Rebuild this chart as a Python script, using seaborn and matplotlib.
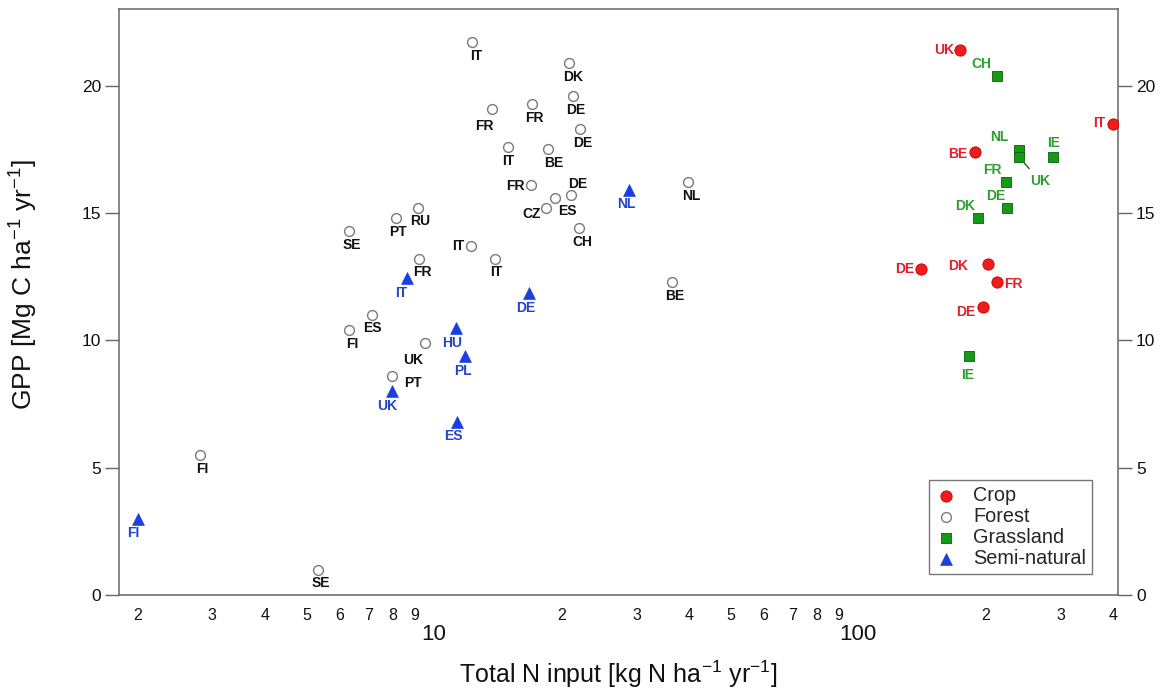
import matplotlib
matplotlib.use("Agg")
import matplotlib.pyplot as plt
from matplotlib.ticker import LogLocator, FuncFormatter, MultipleLocator
import seaborn as sns
import pandas as pd
import numpy as np

# ---- data: total N input (kg N/ha/yr) vs GPP (Mg C/ha/yr) by land use ----
crop_sites = ["UK", "IT", "BE", "DE", "DK", "FR", "DE"]
crop_n = [174, 400, 188.5, 140.7, 202, 212, 197.5]
crop_gpp = [21.4, 18.5, 17.4, 12.8, 13.0, 12.3, 11.3]

forest_sites = ["IT", "DK", "DE", "FR", "FR", "DE", "IT", "BE", "FR", "DE", "ES", "CZ",
                "CH", "NL", "BE", "IT", "IT", "RU", "PT", "SE", "FR", "ES", "FI", "UK",
                "PT", "FI", "SE"]
forest_n = [12.3, 20.8, 21.3, 13.7, 17.0, 22.1, 14.9, 18.6, 16.9, 21.0, 19.3, 18.4,
            22.0, 39.8, 36.4, 12.2, 13.9, 9.15, 8.14, 6.31, 9.23, 7.13, 6.31, 9.52,
            7.95, 2.81, 5.32]
forest_gpp = [21.7, 20.9, 19.6, 19.1, 19.3, 18.3, 17.6, 17.5, 16.1, 15.7, 15.6, 15.2,
              14.4, 16.2, 12.3, 13.7, 13.2, 15.2, 14.8, 14.3, 13.2, 11.0, 10.4, 9.9,
              8.6, 5.5, 1.0]

grass_sites = ["CH", "NL", "UK", "IE", "FR", "DE", "DK", "IE"]
grass_n = [212, 239.5, 239.5, 288, 223, 224, 192, 183]
grass_gpp = [20.4, 17.47, 17.2, 17.2, 16.2, 15.2, 14.8, 9.4]

semi_sites = ["FI", "IT", "UK", "HU", "PL", "ES", "DE", "NL"]
semi_n = [2.0, 8.65, 7.95, 11.25, 11.83, 11.35, 16.77, 28.8]
semi_gpp = [3.0, 12.45, 8.0, 10.5, 9.4, 6.8, 11.85, 15.9]

# ---- label placement (pixel offsets from each marker: right, down) ----
crop_offsets = [(-16, 0), (-14, -1), (-17, 2), (-16, 0), (-30, 2), (17, 2), (-18, 5)]
forest_offsets = [(4, 14), (4, 14), (2, 14), (-8, 17), (3, 14), (3, 14), (1, 14), (5, 14),
                  (-15, 1), (7, -11), (12, 13), (-15, 6), (3, 14), (3, 14), (3, 14),
                  (-13, 0), (1, 13), (2, 13), (2, 14), (3, 14), (3, 13), (1, 13), (3, 14),
                  (-12, 17), (21, 7), (2, 14), (3, 13)]
grass_offsets = [(-15, -12), (-20, -13), (21, 24), (1, -14), (-13, -12), (-11, -12),
                 (-13, -12), (-2, 19)]
semi_offsets = [(-4, 14), (-6, 15), (-5, 15), (-4, 15), (-2, 15), (-4, 14), (-4, 15), (-3, 14)]

groups = [
    dict(name="Crop", sites=crop_sites, n=crop_n, gpp=crop_gpp, off=crop_offsets,
         marker="o", face="#ee1c1c", edge="#c80000", lw=0.6, s=66, text="#e0202a"),
    dict(name="Forest", sites=forest_sites, n=forest_n, gpp=forest_gpp, off=forest_offsets,
         marker="o", face="white", edge="#7a7a7a", lw=1.0, s=50, text="#111111"),
    dict(name="Grassland", sites=grass_sites, n=grass_n, gpp=grass_gpp, off=grass_offsets,
         marker="s", face="#149a14", edge="#0b5e0b", lw=0.6, s=62, text="#2e9e2e"),
    dict(name="Semi-natural", sites=semi_sites, n=semi_n, gpp=semi_gpp, off=semi_offsets,
         marker="^", face="#1a3fe0", edge="#1a3fe0", lw=0.5, s=72, text="#2244cc"),
]

sns.set_theme(style="white")
plt.rcParams["font.family"] = ["Liberation Sans", "DejaVu Sans"]
plt.rcParams["mathtext.default"] = "regular"

fig = plt.figure(figsize=(11.68, 6.97), dpi=100)
ax = fig.add_axes([119 / 1168, 1 - 595 / 697, (1118 - 119) / 1168, (595 - 9.3) / 697])

for g in groups:
    df = pd.DataFrame({"N": g["n"], "GPP": g["gpp"], "site": g["sites"]})
    sns.scatterplot(data=df, x="N", y="GPP", ax=ax, marker=g["marker"], s=g["s"],
                    color=g["face"], edgecolor=g["edge"], linewidth=g["lw"],
                    label=g["name"], zorder=3, legend=False)
    for site, xv, yv, (dx, dy) in zip(g["sites"], g["n"], g["gpp"], g["off"]):
        arrow = None
        if g["name"] == "Grassland" and site == "UK":
            arrow = dict(arrowstyle="-", color="#444444", lw=1.0, shrinkA=2, shrinkB=6)
        ax.annotate(site, (xv, yv), xytext=(dx, -dy), textcoords="offset pixels",
                    ha="center", va="center", fontsize=10, fontweight="bold",
                    color=g["text"], arrowprops=arrow, zorder=4)

ax.set_xscale("log")
ax.set_xlim(1.807, 410)
ax.set_ylim(0, 23)

# x axis: decades labelled large, intermediate values by their leading digit
ax.xaxis.set_major_locator(LogLocator(base=10))
ax.xaxis.set_minor_locator(LogLocator(base=10, subs=np.arange(2, 10)))
ax.xaxis.set_major_formatter(FuncFormatter(lambda v, p: f"{v:g}"))
ax.xaxis.set_minor_formatter(FuncFormatter(
    lambda v, p: str(int(round(v / 10 ** np.floor(np.log10(v) + 1e-9))))))
ax.yaxis.set_major_locator(MultipleLocator(5))

spine_c = "#666666"
for sp in ax.spines.values():
    sp.set_visible(True)
    sp.set_color(spine_c)
    sp.set_linewidth(1.1)

ax.tick_params(axis="x", which="major", direction="out", length=11, width=1.0,
               color=spine_c, labelsize=16, pad=10, labelcolor="#111111", top=False)
ax.tick_params(axis="x", which="minor", direction="out", length=6, width=1.0,
               color=spine_c, labelsize=11.5, pad=3, labelcolor="#111111", top=False)
ax.tick_params(axis="y", which="major", direction="out", length=10, width=1.0,
               color=spine_c, labelsize=12.5, pad=3, labelcolor="#111111",
               left=True, right=True, labelleft=True, labelright=True)

ax.set_xlabel("Total N input [kg N ha$^{-1}$ yr$^{-1}$]", fontsize=18, color="#111111")
ax.xaxis.set_label_coords(0.5, -0.108)
ax.set_ylabel("GPP [Mg C ha$^{-1}$ yr$^{-1}$]", fontsize=19, color="#111111")
ax.yaxis.set_label_coords(-0.079, 0.53)

leg = ax.legend(loc="lower right", bbox_to_anchor=(0.974, 0.036), frameon=True,
                fancybox=False, edgecolor="#555555", fontsize=14.3, handletextpad=0.8,
                labelspacing=0.1, borderpad=0.3, handlelength=1.1,
                borderaxespad=0)
leg.get_frame().set_linewidth(1.0)

fig.savefig("out.png", dpi=100, facecolor="white")
